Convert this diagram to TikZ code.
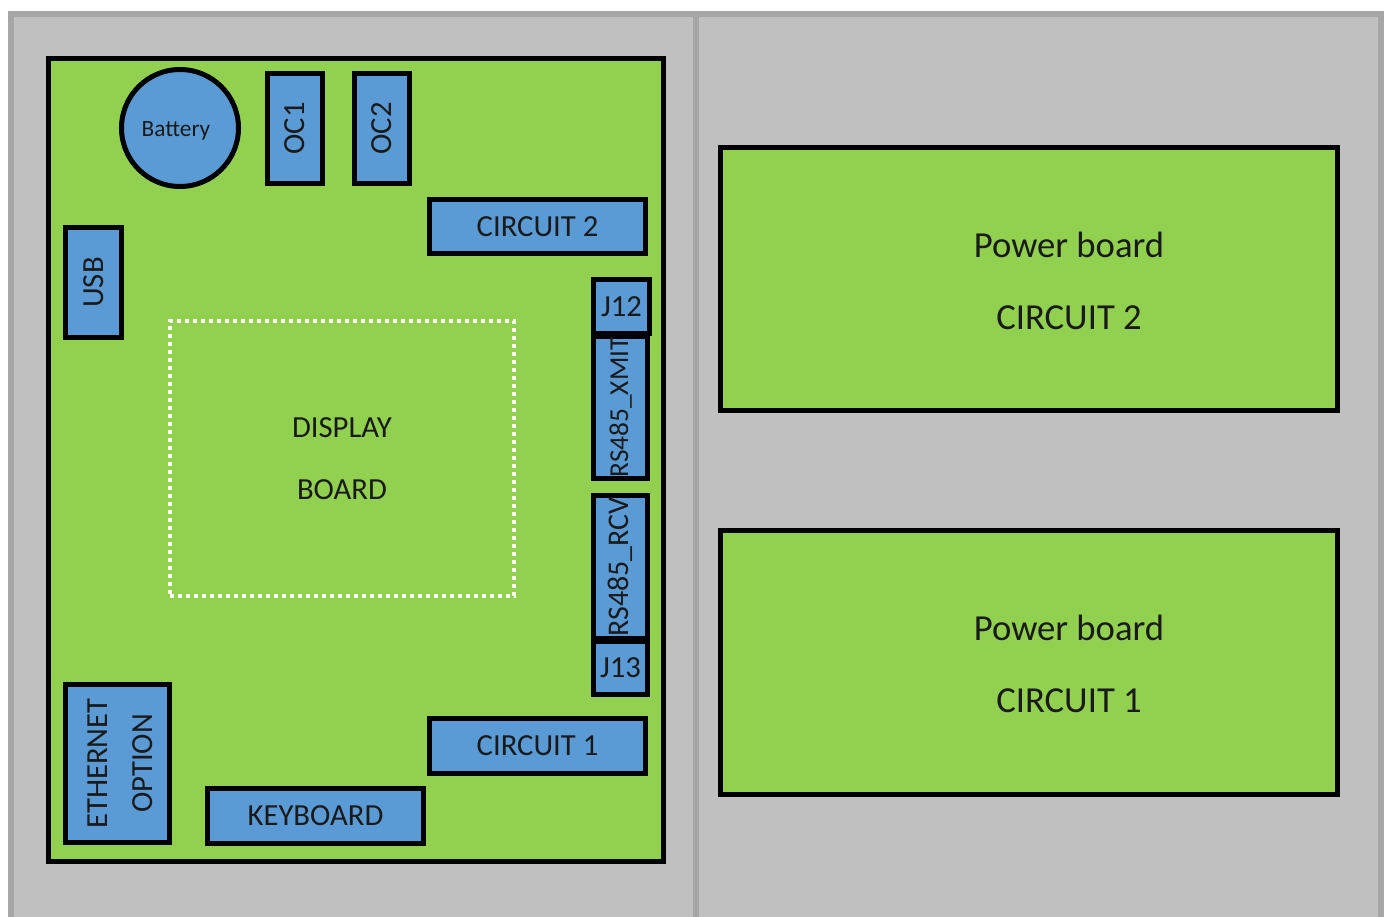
\documentclass[tikz,border=0pt]{standalone}
\usepackage{fontspec}
\setmainfont{Carlito}
\definecolor{bggray}{HTML}{C0C0C0}
\definecolor{edgegray}{HTML}{A6A6A6}
\definecolor{boardgreen}{HTML}{92D050}
\definecolor{partblue}{HTML}{5B9BD5}
\definecolor{txt}{HTML}{1A1A1A}
\begin{document}
\begin{tikzpicture}[x=0.75pt,y=-0.75pt,
  mainfont/.style={font=\fontsize{23}{27}\selectfont},
  sz/.style 2 args={minimum width=#1*0.75pt, minimum height=#2*0.75pt},
  board/.style={draw=black, line width=3.75pt, fill=boardgreen, inner sep=0pt, text=txt},
  part/.style={draw=black, line width=3.75pt, fill=partblue, inner sep=0pt, text=txt, mainfont, align=center},
  dotbox/.style={draw=white, line width=3pt, dash pattern=on 3pt off 3pt, inner sep=0pt, text=txt, mainfont, align=center}]
\useasboundingbox (0,0) rectangle (1389,917);
% background panels
\fill[white] (0,0) rectangle (1389,917);
\draw[edgegray, fill=bggray, line width=4.5pt] (11,14) rectangle (1381,930);
\draw[edgegray, line width=4.5pt] (696,14) -- (696,930);
% main board
\node[board, sz={615}{803}] (mainboard) at (356,460) {};
% battery
\node[part, circle, minimum size=87.75pt, font=\fontsize{17.5}{20}\selectfont] (battery) at (180,128) {\raisebox{-2pt}[\height][\depth]{Battery}\hspace*{6pt}};
% parts
\node[part, sz={55}{110}] (oc1) at (295,128.5) {\rotatebox{90}{OC1}};
\node[part, sz={55}{110}] (oc2) at (382,128.5) {\rotatebox{90}{OC2}};
\node[part, sz={216}{54}] (circ2) at (537.5,226.5) {CIRCUIT 2};
\node[part, sz={56}{110}] (usb) at (93.5,282.5) {\rotatebox{90}{USB}};
\node[part, sz={54}{142.5}, font=\fontsize{20.5}{24}\selectfont] (xmit) at (620.5,407.25) {\rotatebox{90}{RS485\_XMIT}};
\node[part, sz={56}{54}] (j12) at (621.5,306.5) {J12};
\node[part, sz={54}{143}, font=\fontsize{22.5}{26}\selectfont] (rcv) at (620.5,567) {\rotatebox{90}{RS485\_RCV}};
\node[part, sz={54}{53.5}] (j13) at (620.5,667.75) {J13};
\node[part, sz={104}{158}] (eth) at (117.5,763.5) {\hspace*{7.5pt}\rotatebox{90}{\begin{tabular}{@{}c@{}}ETHERNET\\[7pt]OPTION\end{tabular}}};
\node[part, sz={216}{55}] (kbd) at (315.5,816) {KEYBOARD};
\node[part, sz={216}{55}] (circ1) at (537.5,746) {CIRCUIT 1};
% display
\node[dotbox, sz={344}{275}] (display) at (342,458.5) {DISPLAY\\[20pt]BOARD};
% power boards
\node[board, sz={617}{263}, font=\fontsize{27.5}{32}\selectfont] (pb2) at (1029,279) {\hspace*{60pt}\raisebox{-4.5pt}[\height][\depth]{\begin{tabular}{@{}c@{}}Power board\\[22pt]CIRCUIT 2\end{tabular}}};
\node[board, sz={617}{264}, font=\fontsize{27.5}{32}\selectfont] (pb1) at (1029,662.5) {\hspace*{60pt}\raisebox{-4pt}[\height][\depth]{\begin{tabular}{@{}c@{}}Power board\\[22pt]CIRCUIT 1\end{tabular}}};
\end{tikzpicture}
\end{document}
